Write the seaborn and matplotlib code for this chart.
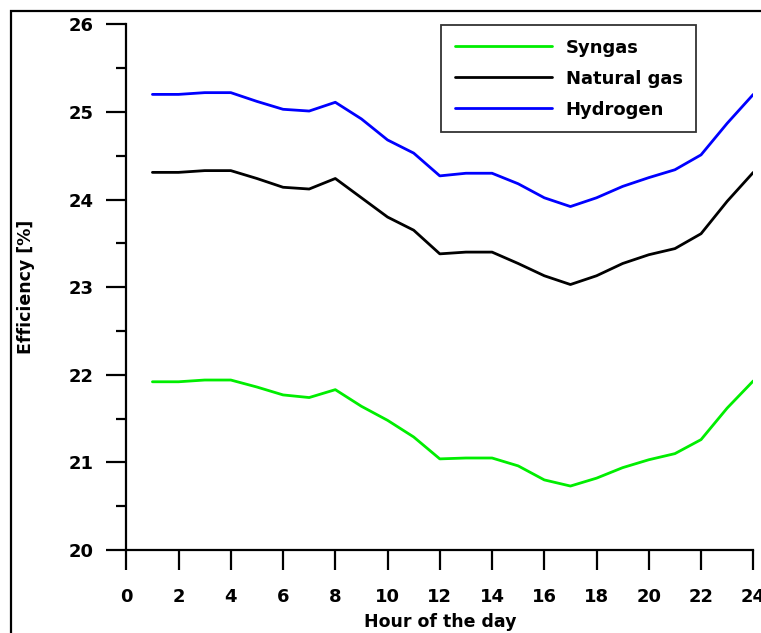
import numpy as np
import pandas as pd
import matplotlib
matplotlib.use("Agg")
import matplotlib.pyplot as plt
from matplotlib.patches import Rectangle
from matplotlib.ticker import MultipleLocator
import seaborn as sns

# Hourly efficiency of the plant for three fuels
hours = list(range(1, 25))
syngas = [21.92, 21.92, 21.94, 21.94, 21.86, 21.77, 21.74, 21.83, 21.64, 21.48, 21.29, 21.04,
          21.05, 21.05, 20.96, 20.80, 20.73, 20.82, 20.94, 21.03, 21.10, 21.26, 21.62, 21.93]
natural_gas = [24.31, 24.31, 24.33, 24.33, 24.24, 24.14, 24.12, 24.24, 24.02, 23.80, 23.65, 23.38,
               23.40, 23.40, 23.27, 23.13, 23.03, 23.13, 23.27, 23.37, 23.44, 23.61, 23.98, 24.31]
hydrogen = [25.20, 25.20, 25.22, 25.22, 25.12, 25.03, 25.01, 25.11, 24.92, 24.68, 24.53, 24.27,
            24.30, 24.30, 24.18, 24.02, 23.92, 24.02, 24.15, 24.25, 24.34, 24.51, 24.87, 25.20]
fuels = ["Syngas", "Natural gas", "Hydrogen"]
colors = ["#00ee00", "#000000", "#0000ff"]
x_ticks = list(range(0, 25, 2))
y_ticks = list(range(20, 27))

df = pd.DataFrame({
    "hour": hours * 3,
    "efficiency": syngas + natural_gas + hydrogen,
    "fuel": [f for f in fuels for _ in hours],
})

sns.set_theme(style="ticks")
plt.rcParams["font.family"] = ["DejaVu Sans"]
plt.rcParams["font.weight"] = "bold"
plt.rcParams["text.color"] = "black"
plt.rcParams["axes.labelcolor"] = "black"
plt.rcParams["xtick.labelcolor"] = "black"
plt.rcParams["ytick.labelcolor"] = "black"

fig = plt.figure(figsize=(7.61, 6.33), dpi=100)
ax = fig.add_axes([126.3 / 761, 1 - 550 / 633, (753.3 - 126.3) / 761, (550 - 24.3) / 633])

sns.lineplot(data=df, x="hour", y="efficiency", hue="fuel", hue_order=fuels,
             palette=colors, linewidth=2.0, ax=ax)

ax.set_xlim(0, 24)
ax.set_ylim(20, 26)
ax.set_xticks(x_ticks)
ax.set_yticks(y_ticks)
ax.yaxis.set_minor_locator(MultipleLocator(0.5))
for side in ("top", "right"):
    ax.spines[side].set_visible(False)
for side in ("left", "bottom"):
    ax.spines[side].set_linewidth(1.6)
    ax.spines[side].set_color("black")

ax.tick_params(axis="both", which="major", length=14.5, width=1.6, color="black",
               labelsize=13, direction="out", labelcolor="black")
ax.tick_params(axis="y", which="minor", length=7.5, width=1.6, color="black", direction="out")
ax.tick_params(axis="y", which="major", pad=9)
ax.tick_params(axis="x", which="major", pad=13)
for lab in ax.get_xticklabels() + ax.get_yticklabels():
    lab.set_fontweight("bold")

ax.set_xlabel("Hour of the day", fontsize=12.5, fontweight="bold", labelpad=5, color="black")
ax.set_ylabel("Efficiency [%]", fontsize=12.5, fontweight="bold", labelpad=24, color="black")

leg = ax.legend(loc="upper left", bbox_to_anchor=(441 / 761, 1 - 25 / 633),
                bbox_transform=fig.transFigure, frameon=True, fancybox=False,
                framealpha=1, edgecolor="#333333", handlelength=5.4, handletextpad=0.75,
                labelspacing=0.72, borderpad=0.75, borderaxespad=0,
                prop={"size": 13, "weight": "bold"})
leg.get_frame().set_linewidth(1.3)
for line in leg.get_lines():
    line.set_linewidth(2.0)
for t in leg.get_texts():
    t.set_color("black")

# outer frame around the figure
fig.patches.append(Rectangle((11 / 761, -0.2), 1.5, 0.2 + 1 - 11 / 633,
                             transform=fig.transFigure, fill=False,
                             edgecolor="black", linewidth=1.6, clip_on=False))

fig.savefig("out.png", dpi=100)
